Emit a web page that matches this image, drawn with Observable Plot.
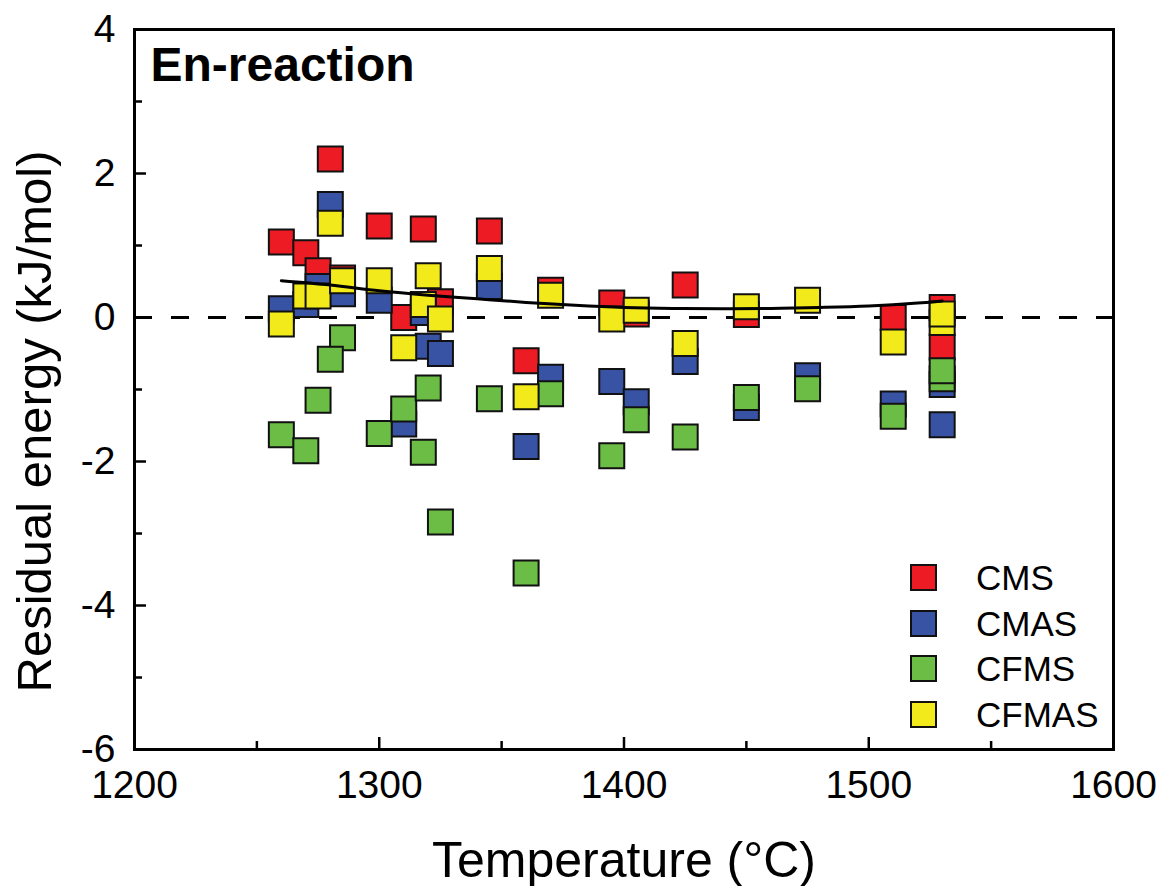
<!DOCTYPE html>
<html><head><meta charset="utf-8">
<script src="https://cdn.jsdelivr.net/npm/d3@7"></script>
<script src="https://cdn.jsdelivr.net/npm/@observablehq/plot@0.6"></script>
<style>
body{margin:0;background:#fff;}
#wrap{position:relative;width:1166px;height:886px;font-family:"Liberation Sans",Arial,sans-serif;}
#legend{position:absolute;left:910px;top:555px;}
.row{display:flex;align-items:center;height:45.5px;}
.sw{width:27px;height:27px;box-sizing:border-box;border:2px solid #111;}
.lab{margin-left:39px;font-size:35px;color:#000;line-height:1;}
</style></head><body><div id="wrap"><div id="legend"></div></div>
<script>
// ---- data ----
const seriesNames = ["CMS", "CMAS", "CFMS", "CFMAS"];
const seriesColors = ["#ED1C24", "#3953A4", "#6BBD45", "#F2EA1B"];

const cmsT = [1260, 1270, 1275, 1280, 1285, 1300, 1310, 1318, 1325, 1345, 1360, 1370, 1395, 1405, 1425, 1450, 1510, 1530, 1530];
const cmsV = [1.05, 0.90, 0.65, 2.20, 0.55, 1.27, 0.00, 1.23, 0.22, 1.20, -0.60, 0.38, 0.20, 0.05, 0.45, 0.04, 0.00, 0.14, -0.41];

const cmasT = [1260, 1270, 1275, 1280, 1285, 1300, 1310, 1318, 1320, 1325, 1345, 1360, 1370, 1395, 1405, 1425, 1450, 1475, 1510, 1530, 1530];
const cmasV = [0.12, 0.18, 0.43, 1.57, 0.33, 0.24, -1.48, 0.07, -0.40, -0.50, 0.43, -1.79, -0.83, -0.89, -1.17, -0.61, -1.25, -0.81, -1.20, -0.93, -1.49];

const cfmsT = [1260, 1270, 1275, 1285, 1280, 1300, 1310, 1318, 1320, 1325, 1345, 1360, 1370, 1395, 1405, 1425, 1450, 1475, 1510, 1530, 1530];
const cfmsV = [-1.63, -1.85, -1.15, -0.28, -0.58, -1.61, -1.27, -1.87, -0.98, -2.84, -1.13, -3.55, -1.06, -1.92, -1.42, -1.66, -1.11, -0.99, -1.37, -0.85, -0.74];

const cfmasT = [1260, 1270, 1275, 1280, 1285, 1300, 1310, 1318, 1320, 1325, 1345, 1360, 1370, 1395, 1405, 1425, 1450, 1475, 1510, 1530, 1530];
const cfmasV = [-0.09, 0.30, 0.30, 1.31, 0.51, 0.51, -0.42, 0.18, 0.58, -0.02, 0.68, -1.10, 0.31, -0.02, 0.10, -0.36, 0.15, 0.24, -0.34, -0.07, 0.05];

const fitT = [1260, 1280, 1300, 1320, 1340, 1360, 1380, 1400, 1420, 1440, 1460, 1480, 1500, 1520, 1530];
const fitV = [0.51, 0.45, 0.37, 0.31, 0.26, 0.21, 0.17, 0.14, 0.125, 0.12, 0.125, 0.14, 0.16, 0.20, 0.23];

const xMajor = [1200, 1300, 1400, 1500, 1600];
const xMinor = [1250, 1350, 1450, 1550];
const yMajor = [-6, -4, -2, 0, 2, 4];
const yMinor = [-5, -3, -1, 1, 3];

const xTitle = "Temperature (°C)";
const yTitle = "Residual energy (kJ/mol)";
const panelTitle = "En-reaction";

// ---- build tables ----
const seriesT = [cmsT, cmasT, cfmsT, cfmasT];
const seriesV = [cmsV, cmasV, cfmsV, cfmasV];
const points = [];
seriesNames.forEach((s, k) => seriesT[k].forEach((t, i) => points.push({series: s, T: t, v: seriesV[k][i]})));
const fit = fitT.map((t, i) => ({T: t, v: fitV[i]}));

const W = 1166, H = 886, mL = 134, mR = 53, mT = 29, mB = 137;
const innerW = W - mL - mR, innerH = H - mT - mB;

const chart = Plot.plot({
  width: W, height: H,
  marginLeft: mL, marginRight: mR, marginTop: mT, marginBottom: mB,
  style: {fontFamily: "'Liberation Sans', Arial, sans-serif", background: "white", color: "black"},
  x: {domain: [1200, 1600]},
  y: {domain: [-6, 4]},
  color: {domain: seriesNames, range: seriesColors},
  marks: [
    Plot.ruleY([0], {stroke: "black", strokeWidth: 3, strokeDasharray: "18,19"}),
    Plot.dot(points, {x: "T", y: "v", fill: "series", symbol: "square", r: 14.1, stroke: "#111", strokeWidth: 2}),
    Plot.line(fit, {x: "T", y: "v", curve: "natural", stroke: "black", strokeWidth: 3}),
    Plot.frame({stroke: "black", strokeWidth: 3}),
    Plot.ruleX(xMajor, {insetTop: innerH - 12, stroke: "black", strokeWidth: 2.5}),
    Plot.ruleX(xMinor, {insetTop: innerH - 8, stroke: "black", strokeWidth: 2.5}),
    Plot.ruleY(yMajor, {insetRight: innerW - 12, stroke: "black", strokeWidth: 2.5}),
    Plot.ruleY(yMinor, {insetRight: innerW - 8, stroke: "black", strokeWidth: 2.5}),
    Plot.axisX(xMajor, {tickSize: 0, tickPadding: 21, fontSize: 39, label: null, tickFormat: d => String(d)}),
    Plot.axisY(yMajor, {tickSize: 0, tickPadding: 19, fontSize: 39, label: null, tickFormat: d => String(d)}),
    Plot.text([xTitle], {text: d => d, frameAnchor: "bottom", dy: 127, lineAnchor: "bottom", textAnchor: "middle", fontSize: 50}),
    Plot.text([yTitle], {text: d => d, frameAnchor: "left", dx: -84, dy: 32, rotate: -90, lineAnchor: "bottom", textAnchor: "middle", fontSize: 49}),
    Plot.text([panelTitle], {text: d => d, frameAnchor: "top-left", dx: 16, dy: 51, lineAnchor: "bottom", textAnchor: "start", fontSize: 48, fontWeight: "bold"})
  ]
});
const wrap = document.getElementById("wrap");
wrap.insertBefore(chart, wrap.firstChild);

const legend = document.getElementById("legend");
seriesNames.forEach((s, i) => {
  const row = document.createElement("div");
  row.className = "row";
  const sw = document.createElement("div");
  sw.className = "sw";
  sw.style.background = seriesColors[i];
  const lab = document.createElement("span");
  lab.className = "lab";
  lab.textContent = s;
  row.appendChild(sw); row.appendChild(lab);
  legend.appendChild(row);
});
</script>
</body></html>
